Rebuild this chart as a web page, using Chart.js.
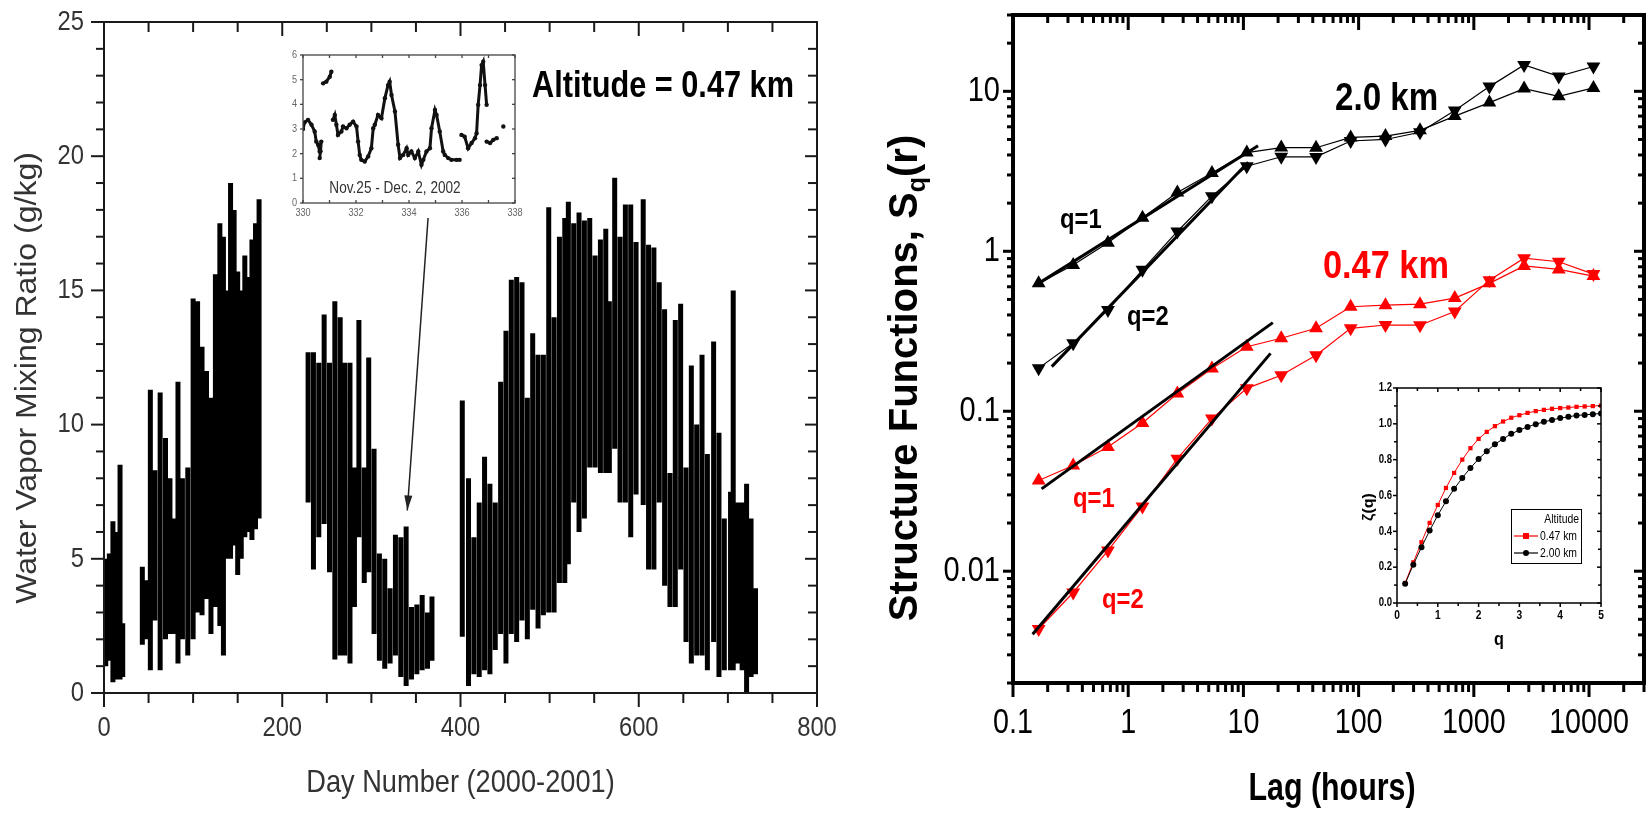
<!DOCTYPE html>
<html>
<head>
<meta charset="utf-8">
<script src="https://cdn.jsdelivr.net/npm/chart.js@4.4.0/dist/chart.umd.min.js"></script>
<style>
  html, body { margin: 0; padding: 0; background: #fff; }
  #wrap { position: relative; width: 1652px; height: 816px; overflow: hidden; background: #fff; }
  canvas { position: absolute; }
</style>
</head>
<body>
<div id="wrap">
  <canvas id="cLeft" width="860" height="816" style="left:0;top:0"></canvas>
  <canvas id="cLeftInset" width="270" height="190" style="left:260px;top:40px"></canvas>
  <canvas id="cRight" width="822" height="816" style="left:830px;top:0"></canvas>
  <canvas id="cRightInset" width="290" height="290" style="left:1340px;top:370px"></canvas>
</div>
<script>
// ---- left panel: water vapour mixing ratio, one streak per few days (day, low, high)
const streakDay = [2, 6, 10, 14, 18, 21,
  43, 47, 52, 57, 63, 69, 74, 78, 83, 88, 94, 100, 105, 110, 115, 120, 125, 130, 134, 138, 142, 146, 150, 154, 158, 162, 166, 170, 174,
  229, 235, 241, 247, 253, 259, 265, 270, 276, 281, 286, 292, 297, 303, 309, 315, 321, 327, 333, 339, 345, 351, 357, 363, 368,
  402, 409, 415, 421, 427, 433, 439, 445, 451, 457, 463, 469, 475, 481, 487, 493, 499, 505, 511, 517, 521, 527, 533, 539,
  545, 551, 557, 563, 567, 573, 579, 585, 591, 597, 605, 611, 617, 623, 629, 635, 641, 647, 653, 659, 665, 671, 677, 684, 690, 696, 703, 706, 711, 716, 721, 726, 731];
const streakLow = [1.0, 1.2, 0.4, 0.5, 0.5, 0.6,
  1.8, 2.0, 0.85, 2.7, 0.85, 2.0, 2.2, 2.2, 1.1, 2.0, 1.4, 2.0, 3.0, 2.9, 3.5, 2.2, 3.2, 2.5, 1.4, 5.0, 5.0, 5.5, 4.4, 5.0, 5.8, 6.0, 5.7, 6.1, 6.5,
  7.1, 4.6, 5.8, 6.3, 4.5, 1.25, 1.4, 1.4, 1.1, 3.2, 5.8, 4.1, 4.5, 2.2, 1.2, 0.9, 1.1, 1.4, 0.6, 0.26, 0.5, 0.7, 0.85, 0.9, 1.2,
  2.1, 0.26, 0.7, 0.6, 0.85, 0.7, 1.6, 2.2, 1.1, 2.2, 1.9, 2.7, 2.0, 3.1, 2.4, 2.9, 3.0, 3.0, 4.1, 4.1, 4.8, 7.1, 6.0, 6.5,
  8.4, 8.4, 8.2, 8.2, 8.2, 9.1, 7.1, 7.1, 5.8, 7.4, 7.0, 4.6, 4.6, 7.1, 4.0, 3.2, 3.2, 4.6, 1.9, 1.1, 1.4, 1.4, 0.85, 1.9, 0.6, 0.85, 0.85, 0.85, 1.1, 0.85, 0.0, 0.6, 0.7];
const streakHigh = [5.0, 5.2, 6.4, 6.0, 8.5, 2.6,
  4.7, 4.2, 11.3, 8.3, 11.2, 9.5, 8.0, 6.5, 11.6, 8.0, 8.4, 14.7, 14.6, 12.9, 12.0, 11.0, 15.6, 17.5, 17.0, 15.0, 19.0, 18.0, 15.7, 15.0, 16.3, 15.5, 16.9, 17.5, 18.4,
  12.7, 12.7, 12.3, 14.1, 12.3, 14.6, 14.0, 12.3, 12.3, 8.4, 13.9, 8.4, 12.5, 9.1, 5.2, 5.0, 3.9, 5.9, 5.8, 6.2, 3.2, 3.3, 3.65, 3.0, 3.6,
  10.9, 8.0, 5.8, 7.1, 8.8, 7.8, 7.1, 11.6, 13.5, 15.4, 15.5, 15.3, 11.0, 13.4, 12.6, 12.6, 18.1, 14.0, 17.0, 17.7, 18.3, 17.5, 17.9, 17.6,
  17.7, 16.3, 16.9, 17.3, 14.6, 19.2, 17.0, 18.2, 18.2, 16.8, 18.4, 16.7, 16.6, 15.3, 14.3, 8.2, 13.9, 14.5, 8.4, 12.2, 10.0, 12.6, 8.9, 13.1, 9.7, 6.5, 7.5, 15.0, 7.1, 7.1, 7.8, 6.5, 3.9];
const leftXTicks = [0, 200, 400, 600, 800];
const leftYTicks = [0, 5, 10, 15, 20, 25];

// inset: Nov. 25 - Dec. 2 trace (null = break in the trace)
const insetDay = [330.0, 330.06, 330.19, 330.32, 330.44, 330.5, 330.57, 330.63, 330.69, 330.66, 330.63, null, 330.76, 330.88, 331.01, 331.07, null,
  331.13, 331.2, 331.26, 331.32, 331.45, 331.51, 331.64, 331.76, 331.89, 332.02, 332.08, 332.14, 332.2, 332.33, 332.46, 332.58,
  332.65, 332.71, 332.83, 332.96, 333.09, 333.21, 333.27, 333.34, 333.47, 333.59, 333.66, 333.78, 333.91, 333.97, 334.09, 334.22,
  334.35, 334.47, 334.54, 334.66, 334.79, 334.85, 334.98, 335.04, 335.16, 335.29, 335.35, 335.48, 335.6, 335.79, 335.91, null, 335.98,
  336.1, 336.23, 336.36, 336.49, 336.55, 336.61, 336.68, 336.74, 336.8, 336.87, 336.93, null, 336.93, 337.06, 337.18, 337.31, null, 337.56];
const insetVal = [3.0, 3.27, 3.37, 3.17, 2.9, 2.49, 2.36, 2.09, 2.49, 2.1, 1.82, null, 4.85, 4.92, 5.12, 5.32, null,
  3.37, 3.57, 3.17, 2.76, 2.9, 3.1, 3.03, 3.17, 3.3, 3.1, 2.49, 1.95, 1.75, 1.68, 1.89, 2.22,
  3.03, 3.17, 3.57, 3.44, 4.25, 4.78, 4.92, 4.38, 3.71, 2.36, 1.82, 1.95, 2.22, 1.95, 2.09, 1.82,
  2.09, 1.55, 1.75, 2.09, 2.22, 3.03, 3.77, 3.57, 2.9, 2.09, 1.95, 1.82, 1.75, 1.75, 1.75, null, 2.76,
  2.69, 2.22, 2.43, 2.63, 2.83, 3.98, 4.78, 5.59, 5.73, 4.78, 3.98, null, 2.49, 2.43, 2.56, 2.63, null, 3.1];
const insetXTicks = [330, 332, 334, 336, 338];
const insetYTicks = [0, 1, 2, 3, 4, 5, 6];

// ---- right panel: structure functions vs lag
const lags = [0.167, 0.333, 0.667, 1.33, 2.67, 5.33, 10.7, 21.3, 42.7, 85.3, 171, 341, 683, 1365, 2731, 5461, 10923];
const km20q1 = [0.63, 0.82, 1.13, 1.62, 2.33, 3.09, 4.14, 4.45, 4.44, 5.15, 5.25, 5.7, 7.0, 8.5, 10.4, 9.3, 10.5];
const km20q2 = [0.186, 0.266, 0.43, 0.766, 1.33, 2.21, 3.4, 3.9, 3.89, 4.89, 5.0, 5.55, 7.6, 10.7, 14.6, 12.4, 14.3];
const km047q1 = [0.0369, 0.0458, 0.0597, 0.0845, 0.129, 0.185, 0.253, 0.286, 0.33, 0.45, 0.46, 0.467, 0.51, 0.63, 0.81, 0.77, 0.70];
const km047q2 = [0.00435, 0.00736, 0.01345, 0.0254, 0.0505, 0.09, 0.139, 0.168, 0.224, 0.33, 0.346, 0.345, 0.42, 0.66, 0.906, 0.86, 0.72];
const fit20q1 = [[0.167, 0.63], [13.4, 4.57]];
const fit20q2 = [[0.217, 0.19], [11, 3.6]];
const fit047q1 = [[0.177, 0.0327], [18, 0.358]];
const fit047q2 = [[0.148, 0.00404], [17.2, 0.23]];
const lagTicks = [0.1, 1, 10, 100, 1000, 10000];
const sfTicks = [0.01, 0.1, 1, 10];

// inset: scaling exponents
const qVals = [0.2, 0.4, 0.6, 0.8, 1.0, 1.2, 1.4, 1.6, 1.8, 2.0, 2.2, 2.4, 2.6, 2.8, 3.0, 3.2, 3.4, 3.6, 3.8, 4.0, 4.2, 4.4, 4.6, 4.8, 5.0];
const zeta047 = [0.112, 0.227, 0.339, 0.447, 0.547, 0.642, 0.726, 0.80, 0.864, 0.916, 0.955, 0.987, 1.013, 1.034, 1.048, 1.061, 1.071, 1.078, 1.084, 1.088, 1.091, 1.095, 1.097, 1.099, 1.102];
const zeta200 = [0.108, 0.214, 0.311, 0.404, 0.49, 0.568, 0.637, 0.698, 0.754, 0.804, 0.847, 0.886, 0.916, 0.944, 0.965, 0.983, 0.998, 1.011, 1.022, 1.032, 1.039, 1.047, 1.05, 1.054, 1.058];
const qTicks = [0, 1, 2, 3, 4, 5];
const zetaTicks = [0, 0.2, 0.4, 0.6, 0.8, 1.0, 1.2];

const FONT = '"Liberation Sans", Arial, sans-serif';
const RED = '#ff0000';

// text with the horizontal squeeze the scanned figure has
function txt(ctx, s, x, y, size, o = {}) {
  ctx.save();
  ctx.translate(x, y);
  if (o.rot) { ctx.rotate(o.rot); ctx.scale(1, o.sq ?? 1); } else ctx.scale(o.sq ?? 0.83, 1);
  ctx.font = `${o.bold ? 'bold ' : ''}${size}px ${FONT}`;
  ctx.fillStyle = o.color || '#000';
  ctx.textAlign = o.align || 'center';
  ctx.textBaseline = o.base || 'middle';
  ctx.fillText(s, 0, 0);
  ctx.restore();
}
function seg(ctx, x1, y1, x2, y2) { ctx.beginPath(); ctx.moveTo(x1, y1); ctx.lineTo(x2, y2); ctx.stroke(); }
const pts = (xs, ys) => xs.map((x, i) => ({ x: x ?? xs[i - 1], y: ys[i] }));
const pairPts = (p) => p.map(([x, y]) => ({ x, y }));

const baseOpts = (pad, xs, ys) => ({
  responsive: false, animation: false, events: [],
  layout: { padding: pad },
  plugins: { legend: { display: false }, tooltip: { enabled: false } },
  scales: { x: { display: false, ...xs }, y: { display: false, ...ys } },
});

// ---------- left main
const leftDeco = {
  id: 'leftDeco',
  afterDraw(chart) {
    const { ctx, chartArea: a, scales: { x, y } } = chart;
    ctx.save();
    ctx.strokeStyle = '#1a1a1a'; ctx.lineWidth = 2;
    for (let v = 0; v <= 800; v += 50) {
      const px = x.getPixelForValue(v), big = v % 200 === 0;
      seg(ctx, px, a.bottom, px, a.bottom + (big ? 14 : 10));
      seg(ctx, px, a.top, px, a.top + (big ? 14 : 10));
    }
    for (let v = 0; v <= 25; v += 1) {
      const py = y.getPixelForValue(v), big = v % 5 === 0;
      seg(ctx, a.left, py, a.left - (big ? 13 : 8), py);
      seg(ctx, a.right, py, a.right - (big ? 12 : 9), py);
    }
    ctx.strokeRect(a.left, a.top, a.right - a.left, a.bottom - a.top);
    leftXTicks.forEach(v => txt(ctx, String(v), x.getPixelForValue(v), 728, 28, { color: '#333', sq: 0.85 }));
    leftYTicks.forEach(v => txt(ctx, String(v), a.left - 20, y.getPixelForValue(v), 28, { color: '#333', align: 'right', sq: 0.85 }));
    txt(ctx, 'Day Number (2000-2001)', (a.left + a.right) / 2, 783, 32, { color: '#333', sq: 0.85 });
    txt(ctx, 'Water Vapor Mixing Ratio (g/kg)', 28, 378, 32, { color: '#333', rot: -Math.PI / 2, sq: 0.95 });
    txt(ctx, 'Altitude = 0.47 km', 532, 97, 37, { bold: true, align: 'left', base: 'alphabetic', sq: 0.83 });
    // arrow from the inset down to late November
    const x1 = x.getPixelForValue(363.6), y1 = y.getPixelForValue(17.7);
    const x2 = x.getPixelForValue(340.3), y2 = y.getPixelForValue(6.8);
    ctx.lineWidth = 1.5; ctx.strokeStyle = '#222';
    seg(ctx, x1, y1, x2, y2);
    const ang = Math.atan2(y2 - y1, x2 - x1);
    ctx.fillStyle = '#222';
    ctx.beginPath();
    ctx.moveTo(x2, y2);
    ctx.lineTo(x2 - 15 * Math.cos(ang) + 4 * Math.sin(ang), y2 - 15 * Math.sin(ang) - 4 * Math.cos(ang));
    ctx.lineTo(x2 - 15 * Math.cos(ang) - 4 * Math.sin(ang), y2 - 15 * Math.sin(ang) + 4 * Math.cos(ang));
    ctx.closePath(); ctx.fill();
    ctx.restore();
  },
};

const streakPts = [];
streakDay.forEach((d, i) => streakPts.push({ x: d, y: streakLow[i] }, { x: d, y: streakHigh[i] }, { x: d, y: null }));

new Chart(document.getElementById('cLeft'), {
  type: 'scatter',
  data: { datasets: [{ data: streakPts, showLine: true, spanGaps: false, borderColor: '#000', borderWidth: 5, borderCapStyle: 'butt', pointRadius: 0 }] },
  options: baseOpts({ left: 104, top: 22, right: 43, bottom: 123 }, { type: 'linear', min: 0, max: 800 }, { type: 'linear', min: 0, max: 25 }),
  plugins: [leftDeco],
});

// ---------- left inset
const leftInsetDeco = {
  id: 'leftInsetDeco',
  afterDraw(chart) {
    const { ctx, chartArea: a, scales: { x, y } } = chart;
    ctx.save();
    ctx.strokeStyle = '#444'; ctx.lineWidth = 1.3;
    ctx.strokeRect(a.left, a.top, a.right - a.left, a.bottom - a.top);
    for (let v = 330; v <= 338; v += 1) {
      const px = x.getPixelForValue(v);
      seg(ctx, px, a.bottom, px, a.bottom - 3);
      seg(ctx, px, a.top, px, a.top + 3);
    }
    for (let v = 0; v <= 6; v += 1) {
      const py = y.getPixelForValue(v);
      seg(ctx, a.left, py, a.left - 3, py);
      seg(ctx, a.right, py, a.right - 3, py);
    }
    insetXTicks.forEach(v => txt(ctx, String(v), x.getPixelForValue(v), a.bottom + 10, 11, { color: '#666' }));
    insetYTicks.forEach(v => txt(ctx, String(v), a.left - 6, y.getPixelForValue(v), 11, { color: '#666', align: 'right' }));
    txt(ctx, 'Nov.25 - Dec. 2, 2002', 135, 153, 16, { color: '#333', base: 'alphabetic', sq: 0.85 });
    ctx.restore();
  },
};

new Chart(document.getElementById('cLeftInset'), {
  type: 'scatter',
  data: { datasets: [{ data: pts(insetDay, insetVal), showLine: true, spanGaps: false, borderColor: '#111', borderWidth: 3, pointRadius: 2.2, pointBackgroundColor: '#111', pointBorderWidth: 0 }] },
  options: baseOpts({ left: 43, top: 15, right: 15, bottom: 27 }, { type: 'linear', min: 330, max: 338 }, { type: 'linear', min: 0, max: 6 }),
  plugins: [leftInsetDeco],
});

// ---------- right main
const rightDeco = {
  id: 'rightDeco',
  afterDraw(chart) {
    const { ctx, chartArea: a, scales: { x, y } } = chart;
    ctx.save();
    ctx.strokeStyle = '#000'; ctx.lineWidth = 3;
    for (let e = -1; e <= 4; e++) for (let m = 1; m <= 9; m++) {
      const v = m * Math.pow(10, e);
      if (v > 30000.001) continue;
      const px = x.getPixelForValue(v), big = m === 1;
      seg(ctx, px, a.bottom, px, a.bottom + (big ? 14 : 9));
      seg(ctx, px, a.top, px, a.top + (big ? 15 : 8));
    }
    for (let e = -3; e <= 1; e++) for (let m = 1; m <= 9; m++) {
      const v = m * Math.pow(10, e);
      if (v < 0.00199 || v > 30.001) continue;
      const py = y.getPixelForValue(v), big = m === 1;
      seg(ctx, a.left, py, a.left - (big ? 10 : 6), py);
      seg(ctx, a.right, py, a.right - (big ? 10 : 6), py);
    }
    ctx.lineWidth = 4;
    ctx.strokeRect(a.left, a.top, a.right - a.left, a.bottom - a.top);
    lagTicks.forEach(v => txt(ctx, String(v), x.getPixelForValue(v), 723, 35, { sq: 0.82 }));
    sfTicks.forEach(v => txt(ctx, String(v), a.left - 13, y.getPixelForValue(v), 35, { align: 'right', sq: 0.83 }));
    txt(ctx, 'Lag (hours)', 502, 800, 38, { bold: true, base: 'alphabetic', sq: 0.8 });

    // rotated y title with subscript q
    ctx.save();
    ctx.translate(72, 378);
    ctx.rotate(-Math.PI / 2);
    ctx.fillStyle = '#000';
    ctx.textBaseline = 'alphabetic';
    ctx.font = `bold 40px ${FONT}`;
    const p1 = 'Structure Functions, S', p3 = '(r)';
    const w1 = ctx.measureText(p1).width, w3 = ctx.measureText(p3).width;
    ctx.font = `bold 25px ${FONT}`;
    const wq = ctx.measureText('q').width;
    let s = -(w1 + wq + w3) / 2;
    ctx.font = `bold 40px ${FONT}`;
    ctx.fillText(p1, s, 15);
    ctx.font = `bold 25px ${FONT}`;
    ctx.fillText('q', s + w1, 23);
    ctx.font = `bold 40px ${FONT}`;
    ctx.fillText(p3, s + w1 + wq, 15);
    ctx.restore();

    txt(ctx, '2.0 km', 505, 110, 39, { bold: true, align: 'left', base: 'alphabetic', sq: 0.85 });
    txt(ctx, '0.47 km', 493, 278, 39, { bold: true, align: 'left', base: 'alphabetic', sq: 0.88, color: RED });
    txt(ctx, 'q=1', 230, 228, 28, { bold: true, align: 'left', base: 'alphabetic', sq: 0.85 });
    txt(ctx, 'q=2', 297, 325, 28, { bold: true, align: 'left', base: 'alphabetic', sq: 0.85 });
    txt(ctx, 'q=1', 243, 507, 28, { bold: true, align: 'left', base: 'alphabetic', sq: 0.85, color: RED });
    txt(ctx, 'q=2', 272, 608, 28, { bold: true, align: 'left', base: 'alphabetic', sq: 0.85, color: RED });
    ctx.restore();
  },
};

const fitSet = (p) => ({ data: pairPts(p), showLine: true, borderColor: '#000', borderWidth: 3, pointRadius: 0 });
const dataSet = (ys, color, down) => ({
  data: pts(lags, ys), showLine: true, borderColor: color, borderWidth: 1.2,
  pointStyle: 'triangle', rotation: down ? 180 : 0, pointRadius: 8,
  pointBackgroundColor: color, pointBorderColor: color, pointBorderWidth: 0,
});

new Chart(document.getElementById('cRight'), {
  type: 'scatter',
  data: {
    datasets: [
      fitSet(fit20q1), fitSet(fit20q2), fitSet(fit047q1), fitSet(fit047q2),
      dataSet(km20q1, '#000', false), dataSet(km20q2, '#000', true),
      dataSet(km047q1, RED, false), dataSet(km047q2, RED, true),
    ],
  },
  options: baseOpts({ left: 183, top: 15, right: 5, bottom: 133 },
    { type: 'logarithmic', min: 0.1, max: 30000 }, { type: 'logarithmic', min: 0.002, max: 30 }),
  plugins: [rightDeco],
});

// ---------- right inset
const rightInsetDeco = {
  id: 'rightInsetDeco',
  afterDraw(chart) {
    const { ctx, chartArea: a, scales: { x, y } } = chart;
    ctx.save();
    ctx.strokeStyle = '#000'; ctx.lineWidth = 1.5;
    for (let i = 0; i <= 10; i++) {
      const px = x.getPixelForValue(i * 0.5), big = i % 2 === 0;
      seg(ctx, px, a.bottom, px, a.bottom + (big ? 4 : 3));
      seg(ctx, px, a.top, px, a.top + (big ? 4 : 3));
    }
    for (let i = 0; i <= 12; i++) {
      const py = y.getPixelForValue(i * 0.1), big = i % 2 === 0;
      seg(ctx, a.left, py, a.left - (big ? 4 : 3), py);
      seg(ctx, a.right, py, a.right - (big ? 4 : 3), py);
    }
    ctx.strokeRect(a.left, a.top, a.right - a.left, a.bottom - a.top);
    qTicks.forEach(v => txt(ctx, String(v), x.getPixelForValue(v), a.bottom + 13, 12, { bold: true, sq: 0.85 }));
    zetaTicks.forEach(v => txt(ctx, v.toFixed(1), a.left - 5, y.getPixelForValue(v), 12, { bold: true, align: 'right', sq: 0.8 }));
    txt(ctx, 'q', 159, 270, 18, { bold: true, sq: 0.9 });
    txt(ctx, 'ζ(q)', 29, 137, 16, { bold: true, rot: -Math.PI / 2, sq: 0.9 });

    // legend box
    ctx.lineWidth = 1; ctx.strokeStyle = '#000';
    ctx.strokeRect(171.5, 139.5, 70, 54);
    txt(ctx, 'Altitude', 239, 149, 13, { align: 'right', sq: 0.8 });
    const rows = [['0.47 km', RED, 'rect', 166], ['2.00 km', '#000', 'circle', 183]];
    rows.forEach(([label, color, shape, yy]) => {
      ctx.strokeStyle = color; ctx.fillStyle = color; ctx.lineWidth = 1.2;
      seg(ctx, 174, yy, 198, yy);
      ctx.beginPath();
      if (shape === 'rect') ctx.rect(183, yy - 3, 6, 6); else ctx.arc(186, yy, 3, 0, Math.PI * 2);
      ctx.fill();
      txt(ctx, label, 200, yy, 13, { align: 'left', sq: 0.8 });
    });
    ctx.restore();
  },
};

new Chart(document.getElementById('cRightInset'), {
  type: 'scatter',
  data: {
    datasets: [
      { data: pts(qVals, zeta200), showLine: true, borderColor: '#000', borderWidth: 1, pointStyle: 'circle', pointRadius: 3, pointBackgroundColor: '#000', pointBorderWidth: 0 },
      { data: pts(qVals, zeta047), showLine: true, borderColor: RED, borderWidth: 1, pointStyle: 'rect', pointRadius: 3, pointBackgroundColor: RED, pointBorderWidth: 0 },
    ],
  },
  options: baseOpts({ left: 57, top: 18, right: 29, bottom: 57 }, { type: 'linear', min: 0, max: 5 }, { type: 'linear', min: 0, max: 1.2 }),
  plugins: [rightInsetDeco],
});
</script>
</body>
</html>
